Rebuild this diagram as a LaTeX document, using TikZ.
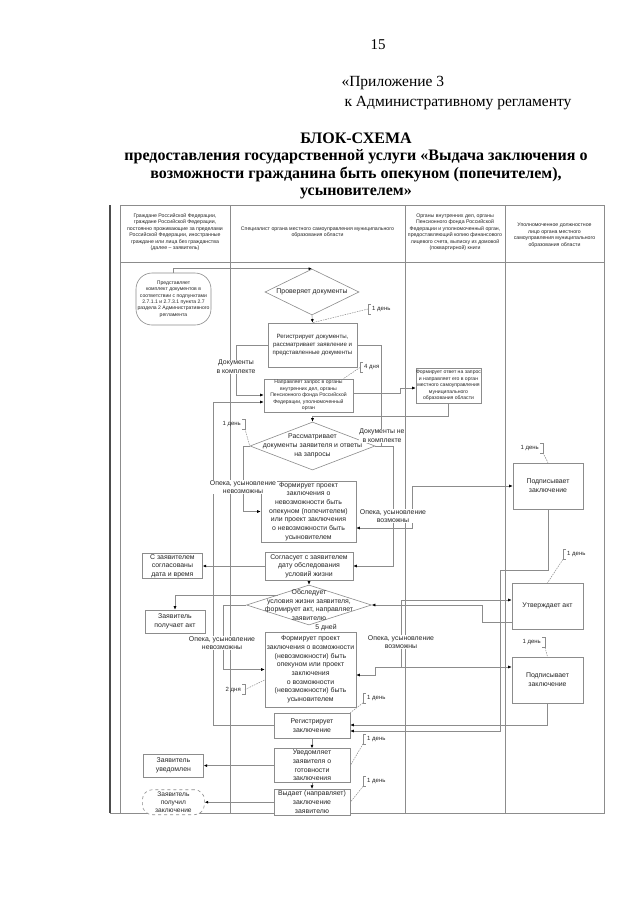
\documentclass[tikz,border=0pt]{standalone}
\usepackage{fontspec}
\setmainfont{Liberation Serif}
\newfontfamily\dsans{Liberation Sans}
\usetikzlibrary{arrows.meta,positioning,shapes.geometric}
\colorlet{lc}{black!45}
\newcommand\hfont{\dsans\fontsize{5.2}{6.5}\selectfont}
\newcommand\mfont{\dsans\fontsize{6.9}{8.7}\selectfont}
\newcommand\rfont{\dsans\fontsize{6.1}{8}\selectfont}
\newcommand\sfont{\dsans\fontsize{5.1}{6.4}\selectfont}
\newcommand\nfont{\dsans\fontsize{6}{7}\selectfont}

\begin{document}
\begin{tikzpicture}[x=1pt, y=-1pt,
    lane/.style={draw=lc, line width=0.6pt},
    head/.style={align=center, font=\hfont, text=black!85},
    act/.style={draw=lc, line width=0.6pt, fill=white, align=center, inner sep=0pt, font=\mfont, text=black!85},
    decide/.style={diamond, draw=lc, line width=0.6pt, fill=white, inner sep=0pt},
    dtext/.style={align=center, font=\mfont, text=black!85, inner sep=0pt},
    tag/.style={fill=white, align=center, font=\mfont, inner sep=0.5pt, text=black!85},
    memo/.style={font=\nfont, inner xsep=4pt, inner ysep=2pt, text=black!85},
    link/.style={draw=lc, line width=0.6pt, -{Latex[length=3.5pt, width=3pt, color=black]}},
    duplex/.style={draw=lc, line width=0.6pt, {Latex[length=3.5pt, width=3pt, color=black]}-{Latex[length=3.5pt, width=3pt, color=black]}},
    tie/.style={draw=lc, line width=0.5pt, dash pattern=on 1.5pt off 1pt}
]
\fill[white] (0,0) rectangle (640,905);
\useasboundingbox (0,0) rectangle (640,905);

% page heading
\node[font=\fontsize{15}{17}\selectfont] (page) at (378,45) {15};
\node[anchor=west, font=\fontsize{15.5}{17}\selectfont] (app1) at (338,83) {«Приложение 3};
\node[anchor=west, font=\fontsize{15.5}{17}\selectfont] (app2) at (341,103) {к Административному регламенту};
\node[align=center, font=\bfseries\fontsize{16}{17.6}\selectfont] (title) at (356,166) {БЛОК-СХЕМА\\предоставления государственной услуги «Выдача заключения о\\возможности гражданина быть опекуном (попечителем),\\усыновителем»};

% lanes
\draw[lane] (120,205) rectangle (604,813);
\draw[lane] (120,262) -- (604,262);
\foreach \x in {230,405,505}
  \draw[lane] (\x,205) -- (\x,813);
\draw[black!70, line width=1.4pt] (110,205) -- (110,813);
\draw[lane] (110,813) -- (120,813);
\node[head] (h1) at (175,232) {Граждане Российской Федерации,\\граждане Российской Федерации,\\постоянно проживающие за пределами\\Российской Федерации, иностранные\\граждане или лица без гражданства\\(далее – заявитель)};
\node[head] (h2) at (317.5,232) {Специалист органа местного самоуправления муниципального\\образования области};
\node[head] (h3) at (455,232) {Органы внутренних дел, органы\\Пенсионного фонда Российской\\Федерации и уполномоченный орган,\\предоставляющий копию финансового\\лицевого счета, выписку из домовой\\(поквартирной) книги};
\node[head] (h4) at (554.5,235) {Уполномоченное должностное\\лицо органа местного\\самоуправления муниципального\\образования области};

% steps
\node[act, font=\sfont, rounded corners=16pt, minimum width=75pt, minimum height=52pt] (start) at (173.5,299) {Представляет\\комплект документов в\\соответствии с подпунктами\\2.7.1.1 и 2.7.3.1 пункта 2.7\\раздела 2 Административного\\регламента};
\node[decide, minimum width=94pt, minimum height=46pt, label={[dtext]center:Проверяет документы}] (d1) at (312,292) {};
\node[act, font=\rfont, minimum width=89pt, minimum height=44pt] (r1) at (312.5,345) {Регистрирует документы,\\рассматривает заявление и\\представленные документы};
\node[act, font=\sfont, minimum width=89pt, minimum height=33pt] (n1) at (308.5,395.5) {Направляет запрос в органы\\внутренних дел, органы\\Пенсионного фонда Российской\\Федерации, уполномоченный\\орган};
\node[act, font=\sfont, minimum width=63pt, minimum height=35pt] (otv) at (448.5,385.5) {Формирует ответ на запрос\\и направляет его в орган\\местного самоуправления\\муниципального\\образования области};
\node[decide, minimum width=125pt, minimum height=48pt, label={[dtext]center:Рассматривает\\документы заявителя и ответы\\на запросы}] (d2) at (312.5,446) {};
\node[act, minimum width=95pt, minimum height=61pt] (f1) at (308.5,511.5) {Формирует проект\\заключения о\\невозможности быть\\опекуном (попечителем)\\или проект заключения\\о невозможности быть\\усыновителем};
\node[act, minimum width=88pt, minimum height=28pt] (s1) at (309,566) {Согласует с заявителем\\дату обследования\\условий жизни};
\node[act, minimum width=60pt, minimum height=25pt, left=62pt of s1] (sogl) {С заявителем\\согласованы\\дата и время};
\node[decide, minimum width=125pt, minimum height=40pt, label={[dtext]center:Обследует\\условия жизни заявителя,\\формирует акт, направляет\\заявителю}] (d3) at (309,605) {};
\node[act, minimum width=60pt, minimum height=23pt] (getact) at (175,621.5) {Заявитель\\получает акт};
\node[act, minimum width=91pt, minimum height=75pt] (f2) at (310.5,669.5) {Формирует проект\\заключения о возможности\\(невозможности) быть\\опекуном или проект\\заключения\\о возможности\\(невозможности) быть\\усыновителем};
\node[act, minimum width=76pt, minimum height=25pt] (regz) at (312,725.5) {Регистрирует\\заключение};
\node[act, minimum width=76pt, minimum height=34pt, below=10pt of regz] (uved) {Уведомляет\\заявителя о\\готовности\\заключения};
\node[act, minimum width=76pt, minimum height=26pt, below=6pt of uved] (vyd) {Выдает (направляет)\\заключение\\заявителю};
\node[act, minimum width=60pt, minimum height=23pt, left=70pt of uved] (uvedomlen) {Заявитель\\уведомлен};
\node[act, dashed, font=\dsans\fontsize{6.6}{7.6}\selectfont, rounded corners=10pt, minimum width=62pt, minimum height=25pt, left=69pt of vyd] (poluchil) {Заявитель\\получил\\заключение};
\node[act, minimum width=70pt, minimum height=46pt] (p1) at (548,486) {Подписывает\\заключение};
\node[act, minimum width=71pt, minimum height=46pt] (utv) at (547.5,606) {Утверждает акт};
\node[act, minimum width=71pt, minimum height=46pt] (p2) at (547.5,680) {Подписывает\\заключение};

% flow
\draw[link] (start.north) |- (d1.north);
\draw[link] (d1.south) -- (r1.north);
\draw[link] (r1.west) -- (236,345) |- ([yshift=0.5pt]n1.west);
\draw[link] (regz.west) -| (213,402) -- ([yshift=-6.5pt]n1.west);
\draw[link] ([yshift=2pt]n1.east) -- (400,393.5) |- ([yshift=-2.5pt]otv.west);
\draw[link] (otv.south) |- (312.5,416) -- (d2.north);
\draw (r1.east) -| (381,446) [lane];
\draw[link] (d2.east) -- (393,446) |- (s1.east);
\draw[link] (d2.west) -- (243,446) |- (f1.west);
\draw[duplex] ([yshift=-16.5pt]f1.east) -- (412,528) |- (p1.west);
\draw[link] (p1.south) |- (500,570) |- ([yshift=-5.5pt]regz.east);
\draw[link] (s1.west) -- (sogl.east);
\draw[link] (s1.south) -- (d3.north);
\draw[link] (d3.north west) -| (getact.north);
\draw[link] (d3.west) -- (223,605) |- (f2.west);
\draw[link] ([yshift=-16pt]utv.west) -- (482,622) |- (d3.east);
\coordinate (jn) at (401,667);
\draw[link] (jn) |- ([yshift=6pt]utv.west);
\draw[duplex] ([yshift=-5.5pt]f2.east) -- (375,675) |- ([yshift=13pt]p2.west);
\draw[link] (p2.south) |- ([yshift=0.5pt]regz.east);
\draw[link] (regz.south) -- (uved.north);
\draw[link] (uved.south) -- (vyd.north);
\draw[link] (uved.west) -- (uvedomlen.east);
\draw[link] (vyd.west) -- (poluchil.east);

% branch labels
\node[tag] (ok) at (236,367) {Документы\\в комплекте};
\node[tag] (notok) at (382,436) {Документы не\\в комплекте};
\node[tag] (no1) at (243,487) {Опека, усыновление\\невозможны};
\node[tag] (yes1) at (393,516) {Опека, усыновление\\возможны};
\node[tag] (no2) at (222,643) {Опека, усыновление\\невозможны};
\node[tag] (yes2) at (401,642) {Опека, усыновление\\возможны};
\node[tag, fill=none] (five) at (326,628) {5 дней};

% time notes
\node[memo, anchor=west] (m1) at (368,309) {1 день};
\draw[lane] ([xshift=3pt]m1.north west) -- (m1.north west) -- (m1.south west) -- ([xshift=3pt]m1.south west);
\draw[tie] (m1.west) -- (r1.north);
\node[memo, anchor=west] (m2) at (360,367.5) {4 дня};
\draw[lane] ([xshift=3pt]m2.north west) -- (m2.north west) -- (m2.south west) -- ([xshift=3pt]m2.south west);
\draw[tie] (m2.west) -- ([xshift=-10pt]n1.north east);
\node[memo, anchor=east] (m3) at (245,424) {1 день};
\draw[lane] ([xshift=-3pt]m3.north east) -- (m3.north east) -- (m3.south east) -- ([xshift=-3pt]m3.south east);
\draw[tie] (m3.south east) -- (d2.west);
\node[memo, anchor=east] (m4) at (543,448) {1 день};
\draw[lane] ([xshift=-3pt]m4.north east) -- (m4.north east) -- (m4.south east) -- ([xshift=-3pt]m4.south east);
\draw[tie] (m4.south east) -- (p1.north);
\node[memo, anchor=west] (m5) at (563,554.5) {1 день};
\draw[lane] ([xshift=3pt]m5.north west) -- (m5.north west) -- (m5.south west) -- ([xshift=3pt]m5.south west);
\draw[tie] (m5.south west) -- (utv.north);
\node[memo, anchor=east] (m6) at (545,642.5) {1 день};
\draw[lane] ([xshift=-3pt]m6.north east) -- (m6.north east) -- (m6.south east) -- ([xshift=-3pt]m6.south east);
\draw[tie] (m6.south east) -- (p2.north);
\node[memo, anchor=east] (m7) at (245,689.5) {2 дня};
\draw[lane] ([xshift=-3pt]m7.north east) -- (m7.north east) -- (m7.south east) -- ([xshift=-3pt]m7.south east);
\draw[tie] (m7.east) -- ([yshift=-10.5pt]f2.west);
\node[memo, anchor=west] (m8) at (363,698) {1 день};
\draw[lane] ([xshift=3pt]m8.north west) -- (m8.north west) -- (m8.south west) -- ([xshift=3pt]m8.south west);
\draw[tie] (m8.south west) -- (regz.north east);
\node[memo, anchor=west] (m9) at (363,739) {1 день};
\draw[lane] ([xshift=3pt]m9.north west) -- (m9.north west) -- (m9.south west) -- ([xshift=3pt]m9.south west);
\draw[tie] (m9.south west) -- (uved.east);
\node[memo, anchor=west] (m10) at (363,781.5) {1 день};
\draw[lane] ([xshift=3pt]m10.north west) -- (m10.north west) -- (m10.south west) -- ([xshift=3pt]m10.south west);
\draw[tie] (m10.south west) -- (vyd.east);
\end{tikzpicture}
\end{document}
